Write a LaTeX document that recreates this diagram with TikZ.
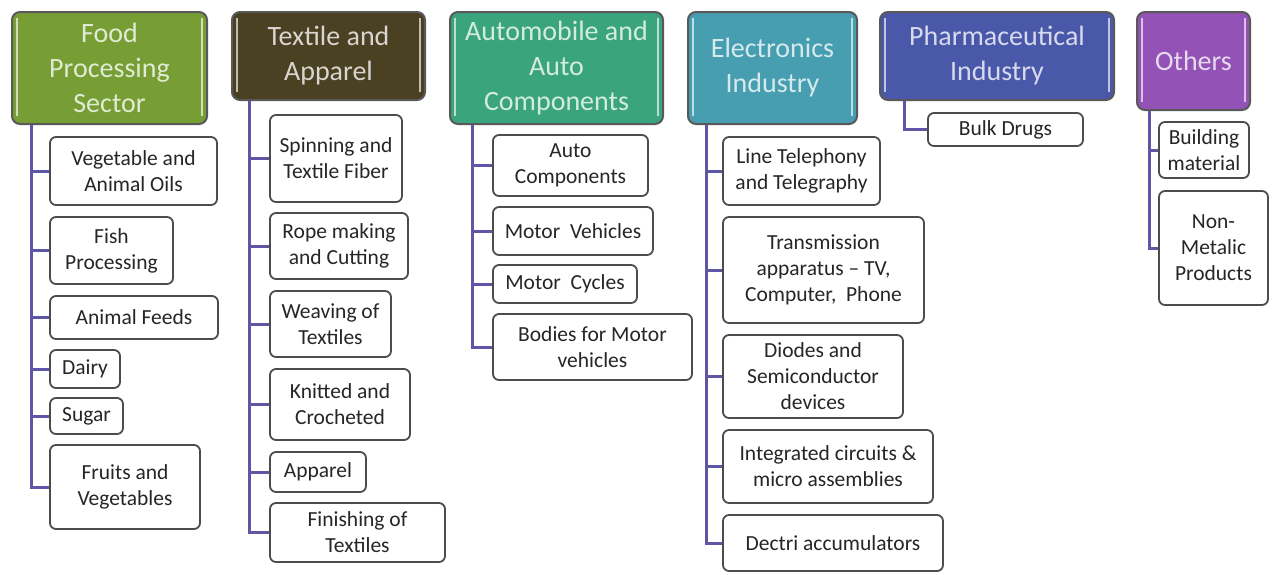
\documentclass[tikz,border=0pt]{standalone}
\usepackage{fontspec}
\setmainfont{Carlito}
\definecolor{foodcol}{RGB}{118,158,52}
\definecolor{textcol}{RGB}{74,64,34}
\definecolor{autocol}{RGB}{58,164,124}
\definecolor{eleccol}{RGB}{70,158,176}
\definecolor{pharmcol}{RGB}{74,88,170}
\definecolor{othcol}{RGB}{146,82,182}
\definecolor{trunkcol}{RGB}{96,86,166}
\tikzset{
  head/.style={draw=black!65, line width=2pt, rounded corners=8pt, fill=#1,
    text=white!78!#1, align=center, inner sep=0pt,
    font=\fontsize{28}{35}\selectfont},
  kid/.style={draw=black!70, line width=1.8pt, rounded corners=6pt, fill=white,
    text=black!85, align=center, inner sep=0pt,
    font=\fontsize{21.5}{26}\selectfont},
  trunk/.style={draw=trunkcol, line width=3pt},
  gloss/.style={draw=white!65!#1, line width=2.5pt},
}
\begin{document}
\begin{tikzpicture}[x=1pt,y=-1pt]
	\useasboundingbox (0,0) rectangle (1278,574);
	% sector heads
	\node [head=foodcol, minimum width=195pt, minimum height=112pt] (food) at (109.5,68) {Food\\Processing\\Sector};
	\node [head=textcol, minimum width=193pt, minimum height=88pt] (textile) at (328.5,56) {Textile and\\Apparel};
	\node [head=autocol, minimum width=213pt, minimum height=112pt] (auto) at (556.5,68) {Automobile and\\Auto\\Components};
	\node [head=eleccol, minimum width=169pt, minimum height=112pt] (elec) at (772.5,68) {Electronics\\Industry};
	\node [head=pharmcol, minimum width=234pt, minimum height=88pt] (pharma) at (997,56) {Pharmaceutical\\Industry};
	\node [head=othcol, minimum width=113pt, minimum height=98pt] (others) at (1193.5,61) {Others};
	% light edges of the heads
	\foreach \h/\c in {food/foodcol,textile/textcol,auto/autocol,elec/eleccol,pharma/pharmcol,others/othcol}
	{
		\draw [gloss=\c] ([xshift=6pt,yshift=-7pt]\h.north west) -- ([xshift=6pt,yshift=9pt]\h.south west);
		\draw [gloss=\c] ([xshift=-6pt,yshift=-7pt]\h.north east) -- ([xshift=-6pt,yshift=9pt]\h.south east);
	}
	% food processing
	\node [kid, minimum width=167pt, minimum height=68pt] (vegoil) at (133.5,171) {Vegetable and\\Animal Oils};
	\node [kid, minimum width=123pt, minimum height=67pt] (fish) at (111.5,250.5) {Fish\\Processing};
	\node [kid, minimum width=168pt, minimum height=43pt] (feeds) at (134,317.5) {Animal Feeds};
	\node [kid, minimum width=70pt, minimum height=38pt] (dairy) at (85,369) {Dairy};
	\node [kid, minimum width=73pt, minimum height=36pt] (sugar) at (86.5,416) {Sugar};
	\node [kid, minimum width=150pt, minimum height=84pt] (fruits) at (125,487) {Fruits and\\Vegetables};
	% textile
	\node [kid, minimum width=132pt, minimum height=87pt] (spin) at (336,158.5) {Spinning and\\Textile Fiber};
	\node [kid, minimum width=138pt, minimum height=66pt] (rope) at (339,246) {Rope making\\and Cutting};
	\node [kid, minimum width=121pt, minimum height=66pt] (weave) at (330.5,324) {Weaving of\\Textiles};
	\node [kid, minimum width=140pt, minimum height=71pt] (knit) at (340,404.5) {Knitted and\\Crocheted};
	\node [kid, minimum width=96pt, minimum height=40pt] (apparel) at (318,472) {Apparel};
	\node [kid, minimum width=175pt, minimum height=59pt] (finish) at (357.5,532.5) {Finishing of\\Textiles};
	% automobile
	\node [kid, minimum width=155pt, minimum height=61pt] (autocomp) at (570.5,165.5) {Auto\\Components};
	\node [kid, minimum width=160pt, minimum height=48pt] (vehicles) at (573,231) {Motor\ \ Vehicles};
	\node [kid, minimum width=144pt, minimum height=38pt] (cycles) at (565,284) {Motor\ \ Cycles};
	\node [kid, minimum width=199pt, minimum height=66pt] (bodies) at (592.5,347) {Bodies for Motor\\vehicles};
	% electronics
	\node [kid, minimum width=157pt, minimum height=68pt] (line) at (801.5,171) {Line Telephony\\and Telegraphy};
	\node [kid, minimum width=201pt, minimum height=106pt] (trans) at (823.5,270) {Transmission\\apparatus -- TV,\\Computer,\ \ Phone};
	\node [kid, minimum width=180pt, minimum height=83pt] (diodes) at (813,376.5) {Diodes and\\Semiconductor\\devices};
	\node [kid, minimum width=210pt, minimum height=73pt] (ic) at (828,466.5) {Integrated circuits \&\\micro assemblies};
	\node [kid, minimum width=220pt, minimum height=56pt] (dectri) at (833,543) {Dectri accumulators};
	% pharmaceutical
	\node [kid, minimum width=155pt, minimum height=33pt] (bulk) at (1005.5,129.5) {Bulk Drugs};
	% others
	\node [kid, minimum width=90pt, minimum height=56pt] (building) at (1204,150) {Building\\material};
	\node [kid, minimum width=109pt, minimum height=114pt] (nonmetal) at (1213.5,248) {Non-\\Metalic\\Products};
	% trunks
	\coordinate (foodroot) at ([xshift=20pt]food.south west);
	\coordinate (textroot) at ([xshift=18pt]textile.south west);
	\coordinate (autoroot) at ([xshift=23pt]auto.south west);
	\coordinate (elecroot) at ([xshift=19pt]elec.south west);
	\coordinate (pharmroot) at ([xshift=25pt]pharma.south west);
	\coordinate (othroot) at ([xshift=13pt]others.south west);
	\foreach \k in {vegoil,fish,feeds,dairy,sugar,fruits}
		\draw [trunk] (foodroot) |- (\k.west);
	\foreach \k in {spin,rope,weave,knit,apparel,finish}
		\draw [trunk] (textroot) |- (\k.west);
	\foreach \k in {autocomp,vehicles,cycles,bodies}
		\draw [trunk] (autoroot) |- (\k.west);
	\foreach \k in {line,trans,diodes,ic,dectri}
		\draw [trunk] (elecroot) |- (\k.west);
	\draw [trunk] (pharmroot) |- (bulk.west);
	\foreach \k in {building,nonmetal}
		\draw [trunk] (othroot) |- (\k.west);
\end{tikzpicture}
\end{document}
